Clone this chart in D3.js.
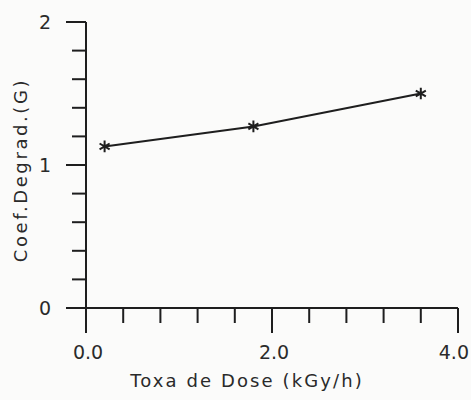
<!DOCTYPE html>
<html>
<head>
<meta charset="utf-8">
<script src="https://cdn.jsdelivr.net/npm/d3@7"></script>
<style>
  body { margin: 0; background: #fbfbfa; }
  svg { display: block; }
  text { font-family: "DejaVu Sans", sans-serif; fill: #2a2a2a; }
</style>
</head>
<body>
<div id="chart"></div>
<script>
// Data
const doseRate = [0.2, 1.8, 3.6];          // kGy/h
const degradCoef = [1.13, 1.27, 1.50];      // G
const xTickLabels = ["0.0", "2.0", "4.0"];
const yTickLabels = ["0", "1", "2"];

const width = 471, height = 400;
const svg = d3.select("#chart").append("svg")
  .attr("width", width)
  .attr("height", height);

const x = d3.scaleLinear().domain([0, 4]).range([86, 458]);
const y = d3.scaleLinear().domain([0, 2]).range([308, 22]);

const ink = "#1e1e1e";

// Y axis (ticks to the left)
const yAxis = svg.append("g");
yAxis.append("line")
  .attr("x1", x(0)).attr("x2", x(0))
  .attr("y1", y(2)).attr("y2", y(0) + 22)
  .attr("stroke", ink).attr("stroke-width", 2);
yAxis.selectAll("line.tick")
  .data(d3.range(0, 11).map(i => i * 0.2))
  .join("line")
  .attr("class", "tick")
  .attr("x1", d => Math.abs(d - Math.round(d)) < 1e-6 ? x(0) - 20 : x(0) - 14)
  .attr("x2", x(0))
  .attr("y1", d => y(d)).attr("y2", d => y(d))
  .attr("stroke", ink).attr("stroke-width", 2);
yAxis.selectAll("text")
  .data(yTickLabels)
  .join("text")
  .attr("x", 45)
  .attr("y", d => y(+d))
  .attr("dy", "0.36em")
  .attr("text-anchor", "middle")
  .attr("font-size", 19)
  .text(d => d);

// X axis (ticks downward)
const xAxis = svg.append("g");
xAxis.append("line")
  .attr("x1", x(0) - 18).attr("x2", x(4))
  .attr("y1", y(0)).attr("y2", y(0))
  .attr("stroke", ink).attr("stroke-width", 2);
xAxis.selectAll("line.tick")
  .data(d3.range(0, 11).map(i => i * 0.4))
  .join("line")
  .attr("class", "tick")
  .attr("x1", d => x(d)).attr("x2", d => x(d))
  .attr("y1", y(0))
  .attr("y2", (d, i) => i % 5 === 0 ? y(0) + 25 : y(0) + 15)
  .attr("stroke", ink).attr("stroke-width", 2);
// last label sits against the right edge, as in the reference
xAxis.selectAll("text")
  .data(xTickLabels)
  .join("text")
  .attr("x", (d, i) => i === xTickLabels.length - 1 ? x(+d) + 11 : x(+d) + 2)
  .attr("y", 352)
  .attr("dy", "0.36em")
  .attr("text-anchor", (d, i) => i === xTickLabels.length - 1 ? "end" : "middle")
  .attr("font-size", 19)
  .text(d => d);

// Axis titles
svg.append("text")
  .attr("x", 247)
  .attr("y", 381)
  .attr("dy", "0.36em")
  .attr("text-anchor", "middle")
  .attr("font-size", 18)
  .attr("letter-spacing", 2.1)
  .text("Toxa de Dose (kGy/h)");

svg.append("text")
  .attr("transform", "translate(21,170) rotate(-90)")
  .attr("dy", "0.36em")
  .attr("text-anchor", "middle")
  .attr("font-size", 18)
  .attr("letter-spacing", 2.6)
  .text("Coef.Degrad.(G)");

// Series
const pts = doseRate.map((d, i) => [d, degradCoef[i]]);
svg.append("path")
  .datum(pts)
  .attr("fill", "none")
  .attr("stroke", ink)
  .attr("stroke-width", 2)
  .attr("d", d3.line().x(d => x(d[0])).y(d => y(d[1])));

svg.selectAll("path.mark")
  .data(pts)
  .join("path")
  .attr("class", "mark")
  .attr("transform", d => `translate(${x(d[0])},${y(d[1])})`)
  .attr("d", d3.symbol(d3.symbolAsterisk, 95))
  .attr("fill", "none")
  .attr("stroke", ink)
  .attr("stroke-width", 2);
</script>
</body>
</html>
